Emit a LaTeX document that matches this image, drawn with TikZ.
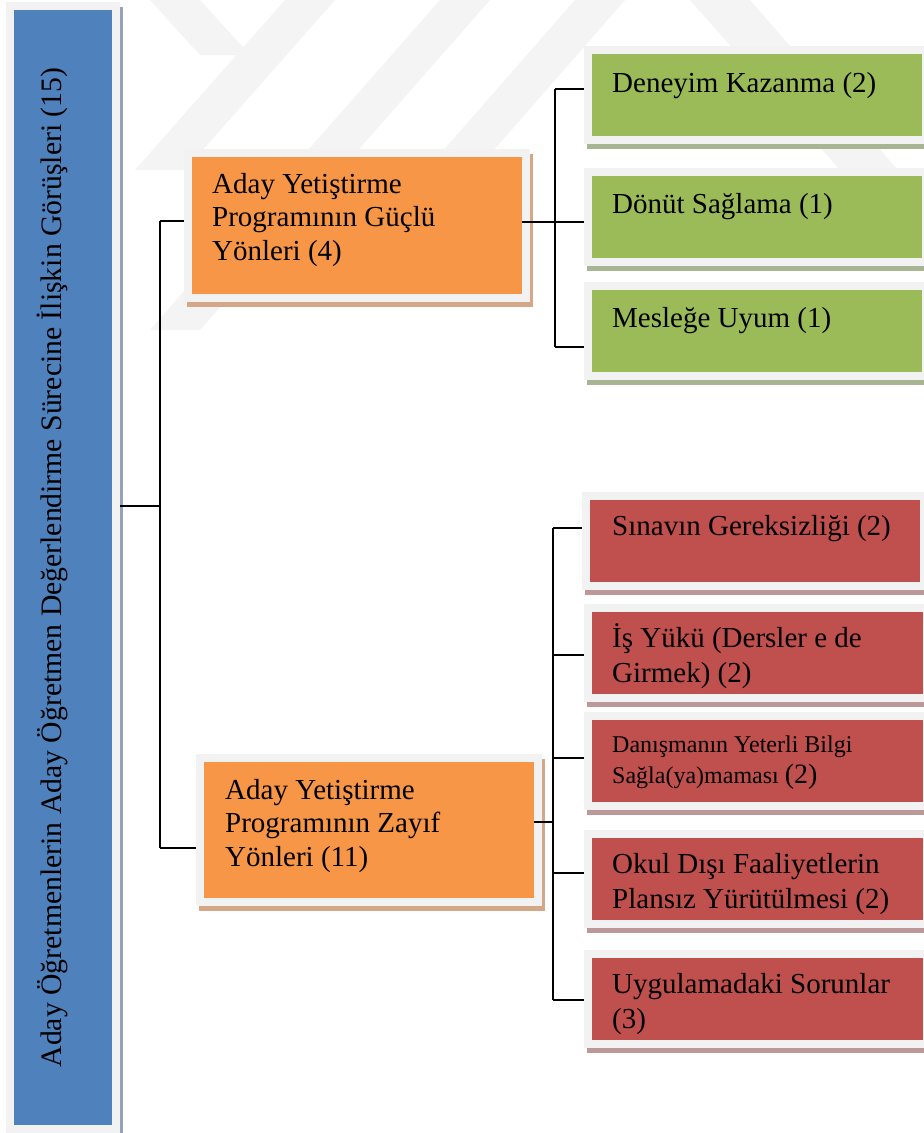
\documentclass[tikz,border=0pt]{standalone}
\usepackage{fontspec}
\setmainfont{Liberation Serif}
\definecolor{bluef}{HTML}{4F81BD}
\definecolor{orangef}{HTML}{F79646}
\definecolor{greenf}{HTML}{9BBB59}
\definecolor{redf}{HTML}{C0504D}
\definecolor{framec}{HTML}{F2F2F2}
\definecolor{blueS}{HTML}{94A3BB}
\definecolor{orangeS}{HTML}{D4A886}
\definecolor{greenS}{HTML}{A8B592}
\definecolor{redS}{HTML}{BC9898}
\definecolor{wm}{HTML}{F4F4F4}
\newcommand\mkbox[7]{% name, x1, y1, x2, y2 (fill rect), fill colour, shadow colour
  \path[fill=#7] (#2-5,#3-3) rectangle (#4+11,#5+13);
  \node[plainbox, fill=framec, minimum width={#4-#2+16}, minimum height={#5-#3+16}] (#1f) at (#2-8,#3-8) {};
  \node[plainbox, fill=#6, minimum width={#4-#2}, minimum height={#5-#3}] (#1) at (#2,#3) {};
}
\newcommand\lns[2]{\parbox[t]{#1}{\raggedright #2}}
\begin{document}
\begin{tikzpicture}[x=1pt,y=-1pt,
  plainbox/.style={anchor=north west, inner sep=0pt, draw=none},
  conn/.style={draw=black, line width=1.6pt},
  lbl/.style={anchor=base west, inner sep=0pt, font=\fontsize{29}{35}\selectfont},
  olbl/.style={anchor=base west, inner sep=0pt, font=\fontsize{29}{33.5}\selectfont}]
\useasboundingbox (0,0) rectangle (924,1133);
\clip (0,0) rectangle (924,1133);
\fill[white] (0,0) rectangle (924,1133);
% faint watermark
\fill[wm] (135,170) -- (185,170) -- (335,0) -- (285,0) -- cycle;
\fill[wm] (150,330) -- (200,330) -- (490,0) -- (440,0) -- cycle;
\fill[wm] (400,200) -- (450,200) -- (625,0) -- (575,0) -- cycle;
\fill[wm] (150,0) -- (200,0) -- (250,55) -- (200,55) -- cycle;
\fill[wm] (690,0) -- (750,0) -- (924,200) -- (924,265) -- cycle;
% boxes
\mkbox{root}{14}{10}{112}{1125}{bluef}{blueS}
\mkbox{o1}{192}{157}{522}{294}{orangef}{orangeS}
\mkbox{o2}{204}{762}{534}{898}{orangef}{orangeS}
\mkbox{g1}{592}{54}{922}{136}{greenf}{greenS}
\mkbox{g2}{592}{176}{922}{258}{greenf}{greenS}
\mkbox{g3}{592}{290}{922}{372}{greenf}{greenS}
\mkbox{r1}{590}{500}{920}{582}{redf}{redS}
\mkbox{r2}{592}{612}{923}{694}{redf}{redS}
\mkbox{r3}{592}{720}{923}{802}{redf}{redS}
\mkbox{r4}{592}{838}{923}{920}{redf}{redS}
\mkbox{r5}{592}{958}{923}{1040}{redf}{redS}
% texts
\node[rotate=90, anchor=base, inner sep=0pt, font=\fontsize{29.7}{35}\selectfont] (roottext) at (61,567.5)
  {Aday Öğretmenlerin Aday Öğretmen Değerlendirme Sürecine İlişkin Görüşleri (15)};
\node[olbl] (o1t) at (212,193) {\lns{300pt}{Aday Yetiştirme\\Programının Güçlü\\Yönleri (4)}};
\node[olbl] (o2t) at (225,799) {\lns{300pt}{Aday Yetiştirme\\Programının Zayıf\\Yönleri (11)}};
\node[lbl] (g1t) at (612,92) {Deneyim Kazanma (2)};
\node[lbl] (g2t) at (612,213) {Dönüt Sağlama (1)};
\node[lbl] (g3t) at (612,327) {Mesleğe Uyum (1)};
\node[lbl] (r1t) at (612,535) {Sınavın Gereksizliği (2)};
\node[lbl] (r2t) at (612,647) {\lns{310pt}{İş Yükü (Dersler e de\\Girmek) (2)}};
\node[lbl, font=\fontsize{24}{31}\selectfont] (r3t) at (612,752)
  {\lns{310pt}{Danışmanın Yeterli Bilgi\\Sağla(ya)maması {\fontsize{28}{31}\selectfont(2)}}};
\node[lbl] (r4t) at (612,873) {\lns{310pt}{Okul Dışı Faaliyetlerin\\Plansız Yürütülmesi (2)}};
\node[lbl] (r5t) at (612,993) {\lns{310pt}{Uygulamadaki Sorunlar\\(3)}};
% connectors: level 1
\coordinate (j0) at (160,506);
\coordinate (a1) at (160,221);
\coordinate (a2) at (160,848);
\draw[conn] (j0 -| rootf.east) -- (j0);
\draw[conn] (a1) -- (a2);
\draw[conn] (a1) -- (a1 -| o1f.west);
\draw[conn] (a2) -- (a2 -| o2f.west);
% level 2: strengths
\coordinate (b1) at (555,89);
\coordinate (b2) at (555,222);
\coordinate (b3) at (555,347);
\draw[conn] (b1) -- (b3);
\draw[conn] (b1) -- (b1 -| g1f.west);
\draw[conn] (b2 -| o1.east) -- (b2 -| g2f.west);
\draw[conn] (b3) -- (b3 -| g3f.west);
% level 2: weaknesses
\coordinate (c1) at (553,528);
\coordinate (c2) at (553,655);
\coordinate (c3) at (553,758);
\coordinate (c0) at (553,822);
\coordinate (c4) at (553,873);
\coordinate (c5) at (553,1000);
\draw[conn] (c1) -- (c5);
\draw[conn] (c0 -| o2.east) -- (c0);
\draw[conn] (c1) -- (c1 -| r1f.west);
\draw[conn] (c2) -- (c2 -| r2f.west);
\draw[conn] (c3) -- (c3 -| r3f.west);
\draw[conn] (c4) -- (c4 -| r4f.west);
\draw[conn] (c5) -- (c5 -| r5f.west);
\end{tikzpicture}
\end{document}
